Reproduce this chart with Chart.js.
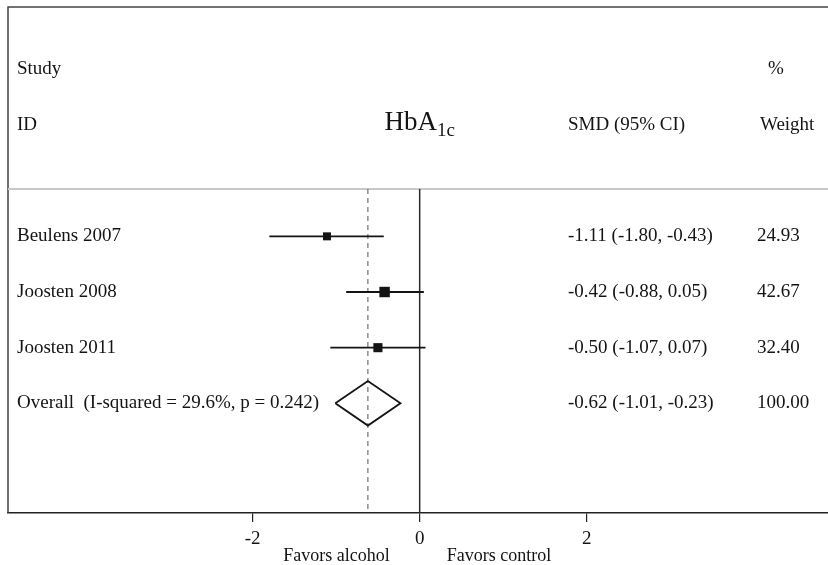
<!DOCTYPE html>
<html>
<head>
<meta charset="utf-8">
<script src="https://cdn.jsdelivr.net/npm/chart.js@4"></script>
<style>
  html, body { margin: 0; padding: 0; background: #fff; overflow: hidden; }
  canvas { display: block; }
</style>
</head>
<body>
<canvas id="forest" width="828" height="565"></canvas>
<script>
// study data
const studies = ['Beulens 2007', 'Joosten 2008', 'Joosten 2011'];
const smd = [-1.11, -0.42, -0.50];
const ciLow = [-1.80, -0.88, -1.07];
const ciHigh = [-0.43, 0.05, 0.07];
const weights = ['24.93', '42.67', '32.40'];

const overallLabel = 'Overall  (I-squared = 29.6%, p = 0.242)';
const overallSmd = -0.62;
const overallLow = -1.01;
const overallHigh = -0.23;
const overallWeight = '100.00';

const xTicks = [-2, 0, 2];

const FONT = '"Liberation Serif", "Times New Roman", serif';
const INK = '#141414';

// row positions (y is a row index, top to bottom)
const studyRows = studies.map((s, i) => i + 1);
const overallRow = studies.length + 1;
const Y_MIN = -3.12, Y_MAX = 5.97;
const SEP_ROW = 0.15;

function fmt(v) { return v.toFixed(2); }
function ciText(e, lo, hi) { return `${fmt(e)} (${fmt(lo)}, ${fmt(hi)})`; }

const datasets = [];

// confidence interval whiskers
studies.forEach((s, i) => {
  datasets.push({
    type: 'line',
    data: [{ x: ciLow[i], y: studyRows[i] }, { x: ciHigh[i], y: studyRows[i] }],
    borderColor: INK,
    borderWidth: 1.8,
    pointRadius: 0,
    order: 2
  });
});

// study point estimates, square size follows weight
datasets.push({
  type: 'scatter',
  data: studies.map((s, i) => ({ x: smd[i], y: studyRows[i] })),
  pointStyle: 'rect',
  pointRadius: weights.map(w => 1.13 * Math.sqrt(parseFloat(w))),
  backgroundColor: INK,
  borderColor: INK,
  borderWidth: 0,
  order: 1
});

// pooled estimate diamond
const dh = 0.4;
datasets.push({
  type: 'line',
  data: [
    { x: overallLow, y: overallRow },
    { x: overallSmd, y: overallRow - dh },
    { x: overallHigh, y: overallRow },
    { x: overallSmd, y: overallRow + dh },
    { x: overallLow, y: overallRow }
  ],
  borderColor: INK,
  borderWidth: 1.8,
  pointRadius: 0,
  fill: false,
  tension: 0,
  order: 1
});

// line of no effect
datasets.push({
  type: 'line',
  data: [{ x: 0, y: SEP_ROW }, { x: 0, y: Y_MAX }],
  borderColor: '#2a2a2a',
  borderWidth: 1.5,
  pointRadius: 0,
  order: 5
});

// overall estimate reference (dashed)
datasets.push({
  type: 'line',
  data: [{ x: overallSmd, y: SEP_ROW }, { x: overallSmd, y: Y_MAX }],
  borderColor: '#555',
  borderWidth: 1,
  borderDash: [5, 4],
  pointRadius: 0,
  order: 6
});

const forestText = {
  id: 'forestText',
  beforeDatasetsDraw(chart) {
    const { ctx, chartArea: a, scales } = chart;
    const ys = scales.y;
    ctx.save();
    // frame top + left
    ctx.strokeStyle = '#444';
    ctx.lineWidth = 1.5;
    ctx.beginPath();
    ctx.moveTo(a.left, a.bottom);
    ctx.lineTo(a.left, a.top);
    ctx.lineTo(chart.width, a.top);
    ctx.stroke();
    // header separator
    const sy = ys.getPixelForValue(SEP_ROW);
    ctx.strokeStyle = '#c8c8c8';
    ctx.lineWidth = 2;
    ctx.beginPath();
    ctx.moveTo(a.left, sy);
    ctx.lineTo(chart.width, sy);
    ctx.stroke();
    ctx.restore();
  },
  afterDraw(chart) {
    const { ctx, chartArea: a, scales } = chart;
    const xs = scales.x, ys = scales.y;
    const labX = a.left + 9;
    const smdX = 568;
    const wX = 757;
    ctx.save();
    ctx.fillStyle = INK;
    ctx.textBaseline = 'middle';
    ctx.font = '19px ' + FONT;
    ctx.textAlign = 'left';

    // headers
    ctx.fillText('Study', labX, ys.getPixelForValue(-2));
    ctx.fillText('%', 768, ys.getPixelForValue(-2));
    ctx.fillText('ID', labX, ys.getPixelForValue(-1));
    ctx.fillText('SMD (95% CI)', smdX, ys.getPixelForValue(-1));
    ctx.fillText('Weight', 760, ys.getPixelForValue(-1));

    // rows
    studies.forEach((s, i) => {
      const y = ys.getPixelForValue(studyRows[i]);
      ctx.fillText(s, labX, y);
      ctx.fillText(ciText(smd[i], ciLow[i], ciHigh[i]), smdX, y);
      ctx.fillText(weights[i], wX, y);
    });
    const oy = ys.getPixelForValue(overallRow);
    ctx.fillText(overallLabel, labX, oy);
    ctx.fillText(ciText(overallSmd, overallLow, overallHigh), smdX, oy);
    ctx.fillText(overallWeight, wX, oy);

    // title HbA1c centred on zero
    const hy = ys.getPixelForValue(-1);
    const zx = xs.getPixelForValue(0);
    ctx.font = '27px ' + FONT;
    const w1 = ctx.measureText('HbA').width;
    ctx.font = '19px ' + FONT;
    const w2 = ctx.measureText('1c').width;
    const x0 = zx - (w1 + w2) / 2;
    ctx.font = '27px ' + FONT;
    ctx.fillText('HbA', x0, hy - 2);
    ctx.font = '19px ' + FONT;
    ctx.fillText('1c', x0 + w1, hy + 6);

    // favours labels under the axis
    ctx.font = '18px ' + FONT;
    ctx.textAlign = 'right';
    ctx.fillText('Favors alcohol', zx - 30, 556);
    ctx.textAlign = 'left';
    ctx.fillText('Favors control', zx + 27, 556);
    ctx.restore();
  }
};

new Chart(document.getElementById('forest'), {
  type: 'scatter',
  data: { datasets },
  options: {
    responsive: false,
    animation: false,
    layout: { autoPadding: false, padding: { left: 8, top: 7, right: 0, bottom: 0 } },
    plugins: { legend: { display: false }, tooltip: { enabled: false } },
    scales: {
      x: {
        type: 'linear',
        min: -4.93,
        max: 4.89,
        afterBuildTicks: (scale) => { scale.ticks = xTicks.map(v => ({ value: v })); },
        afterFit: (scale) => { scale.height = 52; },
        grid: { drawOnChartArea: false, drawTicks: true, tickLength: 9, color: '#222', lineWidth: 1.2 },
        border: { display: true, color: '#222', width: 1.6 },
        ticks: { color: INK, font: { family: FONT, size: 19 }, padding: 6, maxRotation: 0 }
      },
      y: {
        type: 'linear',
        display: false,
        reverse: true,
        min: Y_MIN,
        max: Y_MAX
      }
    }
  },
  plugins: [forestText]
});
</script>
</body>
</html>
